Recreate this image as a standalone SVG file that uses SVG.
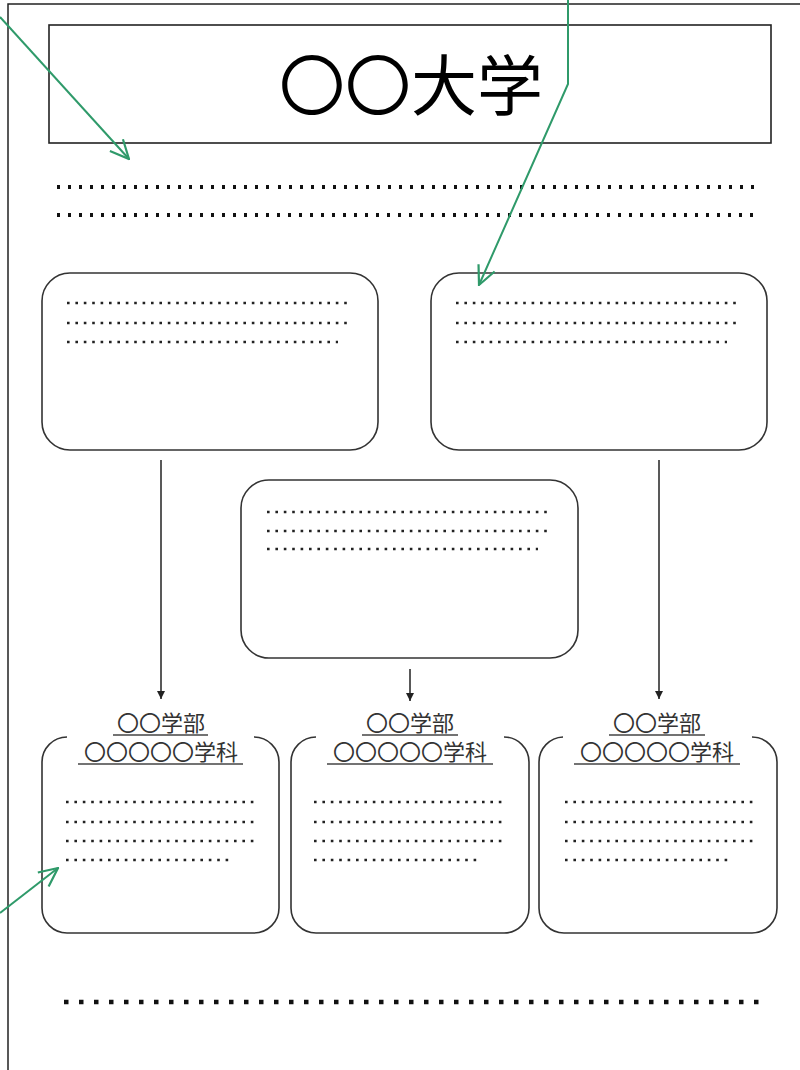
<svg xmlns="http://www.w3.org/2000/svg" width="800" height="1070" viewBox="0 0 800 1070">
<style>
.box{fill:#fff;stroke:#333;stroke-width:1.6}
.dot{stroke:#222;stroke-width:2.6;stroke-dasharray:2.6 5.8}
.big{stroke:#111;stroke-width:4;stroke-dasharray:3 8}
.bot{stroke:#111;stroke-width:4.5;stroke-dasharray:4.5 10.5}
.lbl{font-family:"Noto Sans CJK JP","Noto Sans",sans-serif;font-size:22px;fill:#333;text-anchor:middle}
.ul{stroke:#444;stroke-width:1.3}
.conn{stroke:#222;stroke-width:1.5;fill:none}
.green{stroke:#2f9a6a;stroke-width:2;fill:none}
</style>
<defs>
<marker id="ah" markerUnits="userSpaceOnUse" viewBox="0 0 10 10" refX="10" refY="5" markerWidth="8" markerHeight="8" orient="auto">
<path d="M0,0 L10,5 L0,10 Z" fill="#222"/>
</marker>
<marker id="gh" markerUnits="userSpaceOnUse" viewBox="0 0 20 20" refX="19" refY="10" markerWidth="22" markerHeight="22" orient="auto">
<path d="M2,2 L19,10 L2,18" fill="none" stroke="#2f9a6a" stroke-width="2"/>
</marker>
</defs>
<rect width="800" height="1070" fill="#fff"/>
<g id="page">
<path d="M8,1070 V4 H800" fill="none" stroke="#222" stroke-width="1.5"/>
</g>
<g id="title">
<rect x="49" y="25" width="722" height="118" fill="#fff" stroke="#222" stroke-width="1.6"/>
<text x="411" y="110" font-family="Noto Sans CJK JP, sans-serif" font-size="66" text-anchor="middle" fill="#000">〇〇大学</text>
</g>
<g id="intro">
<line class="big" x1="57" y1="187" x2="270" y2="187"/>
<line class="big" x1="278" y1="187" x2="762" y2="187"/>
<line class="big" x1="57" y1="215" x2="757" y2="215"/>
</g>
<g id="box-top-left">
<rect class="box" x="42" y="273" width="336" height="177" rx="28"/>
<line class="dot" x1="67" y1="303" x2="350" y2="303"/>
<line class="dot" x1="67" y1="323" x2="350" y2="323"/>
<line class="dot" x1="67" y1="342" x2="338" y2="342"/>
</g>
<g id="box-top-right">
<rect class="box" x="431" y="273" width="336" height="177" rx="28"/>
<line class="dot" x1="456" y1="303" x2="739" y2="303"/>
<line class="dot" x1="456" y1="323" x2="739" y2="323"/>
<line class="dot" x1="456" y1="342" x2="727" y2="342"/>
</g>
<g id="box-middle">
<rect class="box" x="241" y="480" width="337" height="178" rx="28"/>
<line class="dot" x1="267" y1="512" x2="550" y2="512"/>
<line class="dot" x1="267" y1="531" x2="550" y2="531"/>
<line class="dot" x1="267" y1="549" x2="538" y2="549"/>
</g>
<g id="dept-left">
<path class="box" fill="none" d="M67,737 A25,25 0 0 0 42,762 V908 A25,25 0 0 0 67,933 H254 A25,25 0 0 0 279,908 V762 A25,25 0 0 0 254,737"/>
<text class="lbl" x="161" y="731">〇〇学部</text>
<line class="ul" x1="113" y1="735" x2="208" y2="735"/>
<text class="lbl" x="161" y="760">〇〇〇〇〇学科</text>
<line class="ul" x1="78" y1="764" x2="243" y2="764"/>
<line class="dot" x1="66" y1="802" x2="256" y2="802"/>
<line class="dot" x1="66" y1="822" x2="256" y2="822"/>
<line class="dot" x1="66" y1="841" x2="256" y2="841"/>
<line class="dot" x1="66" y1="860" x2="232" y2="860"/>
</g>
<g id="dept-middle">
<path class="box" fill="none" d="M316,737 A25,25 0 0 0 291,762 V908 A25,25 0 0 0 316,933 H504 A25,25 0 0 0 529,908 V762 A25,25 0 0 0 504,737"/>
<text class="lbl" x="410" y="731">〇〇学部</text>
<line class="ul" x1="362" y1="735" x2="458" y2="735"/>
<text class="lbl" x="410" y="760">〇〇〇〇〇学科</text>
<line class="ul" x1="327" y1="764" x2="493" y2="764"/>
<line class="dot" x1="314" y1="802" x2="504" y2="802"/>
<line class="dot" x1="314" y1="822" x2="504" y2="822"/>
<line class="dot" x1="314" y1="841" x2="504" y2="841"/>
<line class="dot" x1="314" y1="860" x2="480" y2="860"/>
</g>
<g id="dept-right">
<path class="box" fill="none" d="M563,737 A25,25 0 0 0 539,762 V908 A25,25 0 0 0 564,933 H752 A25,25 0 0 0 777,908 V762 A25,25 0 0 0 752,737"/>
<text class="lbl" x="657" y="731">〇〇学部</text>
<line class="ul" x1="609" y1="735" x2="705" y2="735"/>
<text class="lbl" x="657" y="760">〇〇〇〇〇学科</text>
<line class="ul" x1="574" y1="764" x2="740" y2="764"/>
<line class="dot" x1="565" y1="802" x2="754" y2="802"/>
<line class="dot" x1="565" y1="822" x2="754" y2="822"/>
<line class="dot" x1="565" y1="841" x2="754" y2="841"/>
<line class="dot" x1="565" y1="860" x2="730" y2="860"/>
</g>
<g id="footer">
<line class="bot" x1="64" y1="1002" x2="758.5" y2="1002"/>
</g>
<g id="connectors">
<line class="conn" x1="161" y1="460" x2="161" y2="699" marker-end="url(#ah)"/>
<line class="conn" x1="659" y1="460" x2="659" y2="699" marker-end="url(#ah)"/>
<line class="conn" x1="410" y1="669" x2="410" y2="701" marker-end="url(#ah)"/>
<polyline class="green" points="0,17 129,159" marker-end="url(#gh)"/>
<polyline class="green" points="568,0 568,84 479,285" marker-end="url(#gh)"/>
<polyline class="green" points="0,913 58,868" marker-end="url(#gh)"/>
</g>
</svg>
